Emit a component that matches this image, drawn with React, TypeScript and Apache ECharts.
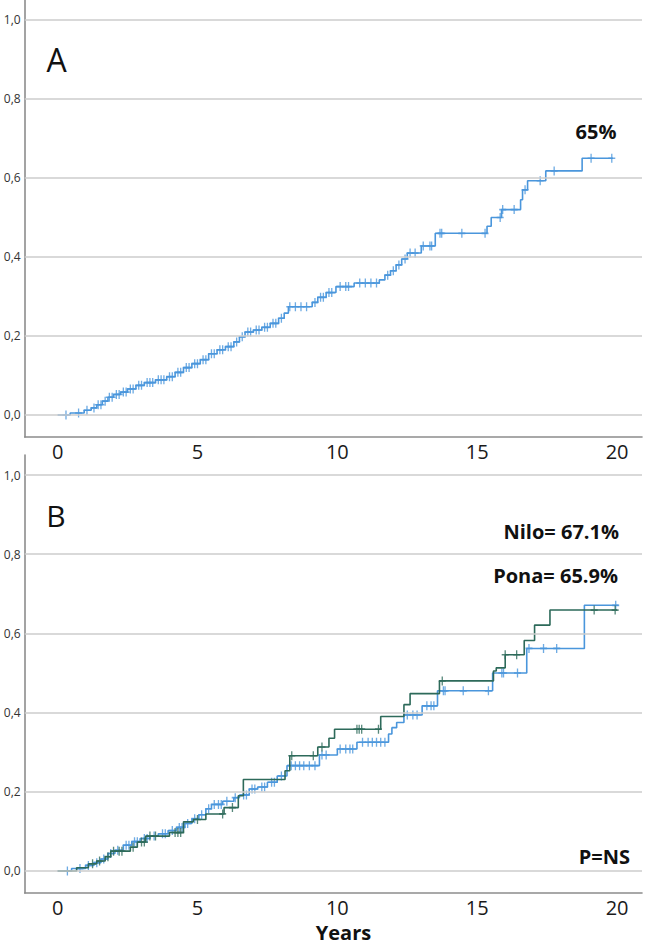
import React, { useEffect, useRef } from "react";
import * as echarts from "echarts";

// ---- axis ticks ----
const xTickLabels = [0, 5, 10, 15, 20];
const yTickValues = [0, 0.2, 0.4, 0.6, 0.8, 1.0];

// ---- Panel A: all patients (event times / cumulative incidence) ----
const allTimes = [0, 0.45, 0.95, 1.2, 1.4, 1.6, 1.8, 2.0, 2.25, 2.5, 2.8, 3.1, 3.5, 3.9, 4.2, 4.5, 4.8, 5.1, 5.4, 5.7, 6.0, 6.3, 6.5, 6.7, 7.0, 7.3, 7.6, 7.9, 8.1, 8.25, 9.1, 9.3, 9.6, 9.95, 10.6, 11.5, 11.7, 11.9, 12.1, 12.3, 12.5, 13.0, 13.5, 15.35, 15.5, 15.87, 16.55, 16.62, 16.8, 17.45, 18.75];
const allValues = [0, 0.005, 0.012, 0.018, 0.026, 0.035, 0.045, 0.052, 0.058, 0.066, 0.075, 0.082, 0.089, 0.097, 0.108, 0.12, 0.13, 0.14, 0.155, 0.165, 0.173, 0.185, 0.198, 0.21, 0.215, 0.222, 0.232, 0.245, 0.258, 0.274, 0.285, 0.298, 0.31, 0.325, 0.334, 0.342, 0.354, 0.365, 0.38, 0.395, 0.41, 0.428, 0.46, 0.478, 0.5, 0.52, 0.545, 0.57, 0.593, 0.618, 0.65];
const allEnd = 19.85;
const allCensor = [0.3, 0.75, 1.05, 1.3, 1.45, 1.55, 1.7, 1.85, 1.95, 2.1, 2.2, 2.35, 2.45, 2.6, 2.7, 2.9, 3.0, 3.2, 3.3, 3.4, 3.6, 3.7, 3.8, 4.0, 4.1, 4.3, 4.4, 4.6, 4.7, 4.9, 5.0, 5.2, 5.3, 5.5, 5.6, 5.8, 5.9, 6.1, 6.2, 6.4, 6.6, 6.8, 6.9, 7.1, 7.2, 7.4, 7.5, 7.7, 7.8, 8.0, 8.3, 8.5, 8.7, 8.9, 9.2, 9.4, 9.5, 9.7, 9.8, 10.1, 10.3, 10.4, 10.8, 11.0, 11.2, 11.4, 11.8, 12.0, 12.2, 12.42, 12.6, 12.78, 13.07, 13.31, 13.37, 13.67, 13.73, 14.45, 15.28, 15.82, 15.91, 16.32, 16.71, 17.25, 17.75, 19.07, 19.81];

// ---- Panel B: Nilo (blue) ----
const niloTimes = [0, 0.5, 1.0, 1.3, 1.55, 1.8, 2.05, 2.35, 2.65, 2.95, 3.3, 3.6, 3.95, 4.25, 4.55, 4.8, 5.05, 5.3, 5.5, 5.9, 6.3, 6.5, 6.85, 7.15, 7.5, 7.85, 8.2, 9.36, 10.0, 10.7, 11.83, 11.95, 12.12, 12.38, 13.03, 13.58, 15.55, 16.77, 18.83];
const niloValues = [0, 0.006, 0.014, 0.021, 0.03, 0.044, 0.052, 0.065, 0.074, 0.082, 0.088, 0.094, 0.102, 0.11, 0.12, 0.132, 0.142, 0.157, 0.168, 0.176, 0.185, 0.192, 0.207, 0.212, 0.224, 0.24, 0.266, 0.293, 0.308, 0.325, 0.346, 0.362, 0.375, 0.394, 0.417, 0.455, 0.5, 0.562, 0.671];
const niloEnd = 20.05;
const niloCensor = [0.35, 0.8, 1.1, 1.4, 1.65, 1.9, 2.15, 2.45, 2.55, 2.75, 2.85, 3.1, 3.2, 3.45, 3.75, 3.85, 4.1, 4.35, 4.45, 4.65, 4.9, 5.15, 5.4, 5.6, 5.75, 5.85, 6.05, 6.35, 6.65, 6.75, 6.95, 7.05, 7.3, 7.4, 7.65, 7.75, 8.0, 8.35, 8.5, 8.65, 8.8, 9.0, 9.2, 9.45, 9.6, 10.1, 10.3, 10.45, 10.55, 10.9, 11.1, 11.25, 11.4, 11.55, 11.7, 12.5, 12.7, 12.85, 13.2, 13.35, 13.45, 13.79, 13.85, 14.5, 15.4, 15.88, 15.94, 16.44, 16.85, 17.37, 17.84, 19.95];

// ---- Panel B: Pona (green) ----
const ponaTimes = [0, 0.68, 1.1, 1.4, 1.7, 1.9, 2.6, 2.85, 3.15, 4.0, 4.5, 4.85, 5.3, 5.95, 6.46, 6.64, 8.13, 8.3, 9.3, 9.7, 9.9, 11.55, 12.38, 12.6, 13.65, 15.58, 15.68, 16.0, 16.68, 17.05, 17.6];
const ponaValues = [0, 0.008, 0.018, 0.025, 0.036, 0.05, 0.06, 0.073, 0.088, 0.097, 0.124, 0.13, 0.144, 0.16, 0.19, 0.231, 0.253, 0.291, 0.313, 0.335, 0.358, 0.39, 0.42, 0.448, 0.48, 0.505, 0.513, 0.546, 0.582, 0.621, 0.659];
const ponaEnd = 20.0;
const ponaCensor = [1.25, 1.5, 1.8, 2.0, 2.2, 2.3, 2.7, 3.0, 3.1, 3.3, 3.5, 4.2, 4.3, 4.4, 5.0, 5.9, 6.25, 8.37, 9.14, 9.45, 10.7, 10.78, 10.87, 11.47, 13.75, 16.0, 16.41, 19.18, 19.93];

const BLUE = "#4a96dc";
const GREEN = "#2d6a5a";
const FONT = "'Open Sans', 'Noto Sans', sans-serif";
const PLUS = "path://M3.25,0 H4.75 V3.25 H8 V4.75 H4.75 V8 H3.25 V4.75 H0 V3.25 H3.25 Z";

function stepPoints(times: number[], values: number[], end: number) {
  const pts = times.map((t, i) => [t, values[i]]);
  pts.push([end, values[values.length - 1]]);
  return pts;
}
function valueAt(times: number[], values: number[], t: number) {
  let v = values[0];
  for (let i = 0; i < times.length; i++) if (times[i] <= t) v = values[i];
  return v;
}
function censorPoints(times: number[], values: number[], cens: number[]) {
  return cens.map((t) => [t, valueAt(times, values, t)]);
}

const X_MIN = -1.176;
const X_MAX = 20.89;
const Y_MIN = -0.0557;
const Y_MAX = 1.0506;

function makeXAxis(gridIndex: number) {
  return {
    type: "value",
    gridIndex,
    min: X_MIN,
    max: X_MAX,
    splitLine: { show: false },
    axisTick: { show: false },
    axisLine: { show: true, onZero: false, lineStyle: { color: "#8c8c8c", width: 1.6 } },
    axisLabel: {
      customValues: xTickLabels,
      fontSize: 20,
      color: "#1a1a1a",
      fontFamily: FONT,
      margin: 4,
      formatter: (v: number) => (xTickLabels.indexOf(Math.round(v * 1000) / 1000) >= 0 ? String(v) : ""),
    },
  };
}
function makeYAxis(gridIndex: number) {
  return {
    type: "value",
    gridIndex,
    min: Y_MIN,
    max: Y_MAX,
    splitLine: { show: false },
    axisTick: { show: false },
    axisLine: { show: true, onZero: false, lineStyle: { color: "#8c8c8c", width: 1.6 } },
    axisLabel: {
      customValues: yTickValues,
      fontSize: 12,
      color: "#333",
      fontFamily: FONT,
      margin: 4,
      formatter: (v: number) => {
        const r = Math.round(v * 10) / 10;
        if (Math.abs(r - v) > 1e-6 || r < 0 || r > 1) return "";
        return r.toFixed(1).replace(".", ",");
      },
    },
  };
}
function gridLineSeries(xAxisIndex: number, yAxisIndex: number) {
  return {
    type: "line",
    xAxisIndex,
    yAxisIndex,
    z: 1,
    data: [[0, 0]],
    showSymbol: false,
    symbol: "none",
    lineStyle: { opacity: 0 },
    silent: true,
    markLine: {
      silent: true,
      symbol: ["none", "none"],
      label: { show: false },
      lineStyle: { color: "#cccccc", width: 1.6, type: "solid" },
      data: yTickValues.map((v) => ({ yAxis: v })),
    },
  };
}
function stepSeries(xAxisIndex: number, yAxisIndex: number, times: number[], values: number[], end: number, color: string, z: number) {
  return {
    type: "line",
    xAxisIndex,
    yAxisIndex,
    step: "end",
    z,
    data: stepPoints(times, values, end),
    showSymbol: false,
    symbol: "none",
    lineStyle: { color, width: 1.6 },
  };
}
function censorSeries(xAxisIndex: number, yAxisIndex: number, times: number[], values: number[], cens: number[], color: string, z: number) {
  return {
    type: "scatter",
    xAxisIndex,
    yAxisIndex,
    z,
    symbol: PLUS,
    symbolSize: [7, 9],
    itemStyle: { color },
    data: censorPoints(times, values, cens),
  };
}

export default function App() {
  const ref = useRef<HTMLDivElement>(null);
  useEffect(() => {
    if (!ref.current) return;
    const chart = echarts.init(ref.current, undefined, { renderer: "svg" });
    const boldText = (text: string, x: number, y: number, align: string) => ({
      type: "text",
      x,
      y,
      style: { text, fontSize: 20, fontWeight: "bold", fontFamily: FONT, fill: "#111", textAlign: align, textVerticalAlign: "middle" },
    });
    chart.setOption({
      animation: false,
      backgroundColor: "#ffffff",
      grid: [
        { left: 24.7, right: 3, top: 0, height: 437 },
        { left: 24.7, right: 3, top: 455, height: 438 },
      ],
      xAxis: [makeXAxis(0), makeXAxis(1)],
      yAxis: [makeYAxis(0), makeYAxis(1)],
      series: [
        gridLineSeries(0, 0),
        stepSeries(0, 0, allTimes, allValues, allEnd, BLUE, 3),
        censorSeries(0, 0, allTimes, allValues, allCensor, BLUE, 3),
        gridLineSeries(1, 1),
        stepSeries(1, 1, niloTimes, niloValues, niloEnd, BLUE, 3),
        censorSeries(1, 1, niloTimes, niloValues, niloCensor, BLUE, 3),
        stepSeries(1, 1, ponaTimes, ponaValues, ponaEnd, GREEN, 4),
        censorSeries(1, 1, ponaTimes, ponaValues, ponaCensor, GREEN, 4),
      ],
      graphic: [
        { type: "text", x: 56.5, y: 59, style: { text: "A", fontSize: 32, fontFamily: FONT, fill: "#111", textAlign: "center", textVerticalAlign: "middle" } },
        boldText("65%", 596, 131, "center"),
        { type: "text", x: 56, y: 515, style: { text: "B", fontSize: 30, fontFamily: FONT, fill: "#111", textAlign: "center", textVerticalAlign: "middle" } },
        boldText("Nilo= 67.1%", 619, 531, "right"),
        boldText("Pona= 65.9%", 618, 575, "right"),
        boldText("P=NS", 630, 856, "right"),
        boldText("Years", 343.5, 932, "center"),
      ],
    });
    return () => chart.dispose();
  }, []);
  return (
    <div
      ref={ref}
      style={{ position: "fixed", left: 0, top: 0, width: 645, height: 946, background: "#fff" }}
    />
  );
}
